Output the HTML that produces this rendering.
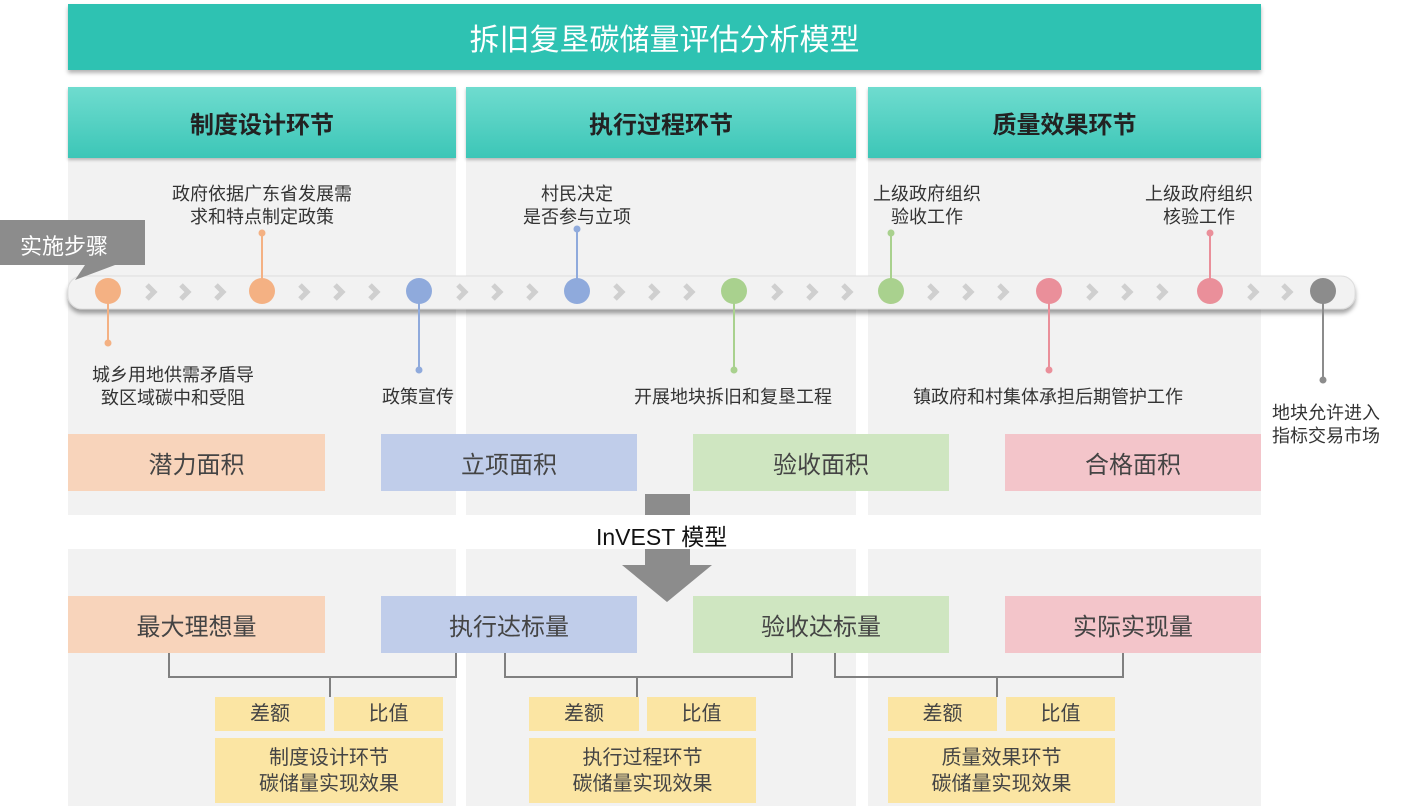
<!DOCTYPE html><html><head><meta charset="utf-8"><style>
body{margin:0;width:1406px;height:806px;position:relative;background:#fff;overflow:hidden;font-family:"Liberation Sans","Noto Sans CJK SC",sans-serif;color:#333}
.a{position:absolute}
.c{display:flex;align-items:center;justify-content:center;text-align:center}
.g{background:#f2f2f2}
.h{background:linear-gradient(#6fdccf,#3cc6b7);color:#222;font-size:24px;font-weight:bold;box-shadow:0 2px 3px rgba(0,0,0,.25)}
.t{font-size:18px;line-height:23px;text-align:center;color:#333}
.b{font-size:24px;color:#444}
.y{background:#fbe5a3;font-size:20px;color:#444;line-height:26px}
</style></head><body>
<div class="a g" style="left:68px;top:158px;width:388px;height:357px"></div>
<div class="a g" style="left:466px;top:158px;width:390px;height:357px"></div>
<div class="a g" style="left:868px;top:158px;width:393px;height:357px"></div>
<div class="a g" style="left:68px;top:549px;width:388px;height:257px"></div>
<div class="a g" style="left:466px;top:549px;width:390px;height:257px"></div>
<div class="a g" style="left:868px;top:549px;width:393px;height:257px"></div>

<div class="a c" style="left:68px;top:4px;width:1193px;height:66px;background:#2ec2b2;color:#fff;font-size:30px;box-shadow:0 3px 4px rgba(0,0,0,.3)">拆旧复垦碳储量评估分析模型</div>
<div class="a c h" style="left:68px;top:87px;width:388px;height:71px">制度设计环节</div>
<div class="a c h" style="left:466px;top:87px;width:390px;height:71px">执行过程环节</div>
<div class="a c h" style="left:868px;top:87px;width:393px;height:71px">质量效果环节</div>

<svg class="a" style="left:0;top:0" width="1406" height="806">
<defs><filter id="s" x="-5%" y="-50%" width="110%" height="200%"><feDropShadow dx="0" dy="4" stdDeviation="2" flood-color="#000" flood-opacity=".35"/></filter></defs>
<rect x="68" y="276" width="1287" height="33" rx="14" fill="#f2f2f2" stroke="#ddd" filter="url(#s)"/>
<polygon points="0,220 145,220 145,265 115,265 75,280 85,265 0,265" fill="#8c8c8c"/>
<g fill="none" stroke="#cfcfcf" stroke-width="5">
<path d="M147,285l7,7l-7,7M181,285l7,7l-7,7M216,285l7,7l-7,7"/>
<path d="M300,285l7,7l-7,7M335,285l7,7l-7,7M370,285l7,7l-7,7"/>
<path d="M458,285l7,7l-7,7M493,285l7,7l-7,7M528,285l7,7l-7,7"/>
<path d="M615,285l7,7l-7,7M650,285l7,7l-7,7M685,285l7,7l-7,7"/>
<path d="M773,285l7,7l-7,7M808,285l7,7l-7,7M843,285l7,7l-7,7"/>
<path d="M929,285l7,7l-7,7M964,285l7,7l-7,7M999,285l7,7l-7,7"/>
<path d="M1088,285l7,7l-7,7M1123,285l7,7l-7,7M1158,285l7,7l-7,7"/>
<path d="M1249,285l7,7l-7,7M1283,285l7,7l-7,7"/>
</g>
<g stroke-width="2">
<line x1="108" y1="291" x2="108" y2="343" stroke="#f4b183"/><circle cx="108" cy="343" r="3.5" fill="#f4b183"/>
<line x1="262" y1="291" x2="262" y2="233" stroke="#f4b183"/><circle cx="262" cy="233" r="3.5" fill="#f4b183"/>
<line x1="419" y1="291" x2="419" y2="370" stroke="#8faadc"/><circle cx="419" cy="370" r="3.5" fill="#8faadc"/>
<line x1="577" y1="291" x2="577" y2="229" stroke="#8faadc"/><circle cx="577" cy="229" r="3.5" fill="#8faadc"/>
<line x1="734" y1="291" x2="734" y2="370" stroke="#a9d18e"/><circle cx="734" cy="370" r="3.5" fill="#a9d18e"/>
<line x1="891" y1="291" x2="891" y2="233" stroke="#a9d18e"/><circle cx="891" cy="233" r="3.5" fill="#a9d18e"/>
<line x1="1049" y1="291" x2="1049" y2="370" stroke="#ea8f9a"/><circle cx="1049" cy="370" r="3.5" fill="#ea8f9a"/>
<line x1="1210" y1="291" x2="1210" y2="233" stroke="#ea8f9a"/><circle cx="1210" cy="233" r="3.5" fill="#ea8f9a"/>
<line x1="1323" y1="291" x2="1323" y2="380" stroke="#8c8c8c"/><circle cx="1323" cy="380" r="3.5" fill="#8c8c8c"/>
</g>
<circle cx="108" cy="291" r="13" fill="#f4b183"/><circle cx="262" cy="291" r="13" fill="#f4b183"/>
<circle cx="419" cy="291" r="13" fill="#8faadc"/><circle cx="577" cy="291" r="13" fill="#8faadc"/>
<circle cx="734" cy="291" r="13" fill="#a9d18e"/><circle cx="891" cy="291" r="13" fill="#a9d18e"/>
<circle cx="1049" cy="291" r="13" fill="#ea8f9a"/><circle cx="1210" cy="291" r="13" fill="#ea8f9a"/>
<circle cx="1323" cy="291" r="13" fill="#8c8c8c"/>
<rect x="645" y="494" width="45" height="21" fill="#8c8c8c"/>
<polygon points="645,549 690,549 690,565 712,565 667,602 622,565 645,565" fill="#8c8c8c"/>
<g fill="none" stroke="#808080" stroke-width="2">
<path d="M169,652V677H456V652M330,677V697"/>
<path d="M505,652V677H792V652M637,677V697"/>
<path d="M835,652V677H1123V652M997,677V697"/>
</g>
</svg>
<div class="a" style="left:20px;top:229px;font-size:22px;color:#fff">实施步骤</div>

<div class="a t" style="left:150px;top:183px;width:224px">政府依据广东省发展需<br>求和特点制定政策</div>
<div class="a t" style="left:480px;top:183px;width:194px">村民决定<br>是否参与立项</div>
<div class="a t" style="left:852px;top:183px;width:150px">上级政府组织<br>验收工作</div>
<div class="a t" style="left:1124px;top:183px;width:150px">上级政府组织<br>核验工作</div>
<div class="a t" style="left:68px;top:364px;width:210px">城乡用地供需矛盾导<br>致区域碳中和受阻</div>
<div class="a t" style="left:358px;top:386px;width:120px">政策宣传</div>
<div class="a t" style="left:608px;top:386px;width:250px">开展地块拆旧和复垦工程</div>
<div class="a t" style="left:888px;top:386px;width:320px">镇政府和村集体承担后期管护工作</div>
<div class="a t" style="left:1258px;top:402px;width:136px">地块允许进入<br>指标交易市场</div>

<div class="a c b" style="left:68px;top:434px;width:257px;height:57px;background:#f8d4bb">潜力面积</div>
<div class="a c b" style="left:381px;top:434px;width:256px;height:57px;background:#c0cdea">立项面积</div>
<div class="a c b" style="left:693px;top:434px;width:256px;height:57px;background:#cfe6c1">验收面积</div>
<div class="a c b" style="left:1005px;top:434px;width:256px;height:57px;background:#f3c5ca">合格面积</div>
<div class="a" style="left:596px;top:518px;font-size:23px;color:#111">InVEST 模型</div>
<div class="a c b" style="left:68px;top:596px;width:257px;height:57px;background:#f8d4bb">最大理想量</div>
<div class="a c b" style="left:381px;top:596px;width:256px;height:57px;background:#c0cdea">执行达标量</div>
<div class="a c b" style="left:693px;top:596px;width:256px;height:57px;background:#cfe6c1">验收达标量</div>
<div class="a c b" style="left:1005px;top:596px;width:256px;height:57px;background:#f3c5ca">实际实现量</div>

<div class="a c y" style="left:215px;top:697px;width:110px;height:34px">差额</div>
<div class="a c y" style="left:334px;top:697px;width:109px;height:34px">比值</div>
<div class="a c y" style="left:215px;top:738px;width:228px;height:65px">制度设计环节<br>碳储量实现效果</div>
<div class="a c y" style="left:529px;top:697px;width:110px;height:34px">差额</div>
<div class="a c y" style="left:647px;top:697px;width:109px;height:34px">比值</div>
<div class="a c y" style="left:529px;top:738px;width:227px;height:65px">执行过程环节<br>碳储量实现效果</div>
<div class="a c y" style="left:888px;top:697px;width:109px;height:34px">差额</div>
<div class="a c y" style="left:1006px;top:697px;width:109px;height:34px">比值</div>
<div class="a c y" style="left:888px;top:738px;width:227px;height:65px">质量效果环节<br>碳储量实现效果</div>
</body></html>
